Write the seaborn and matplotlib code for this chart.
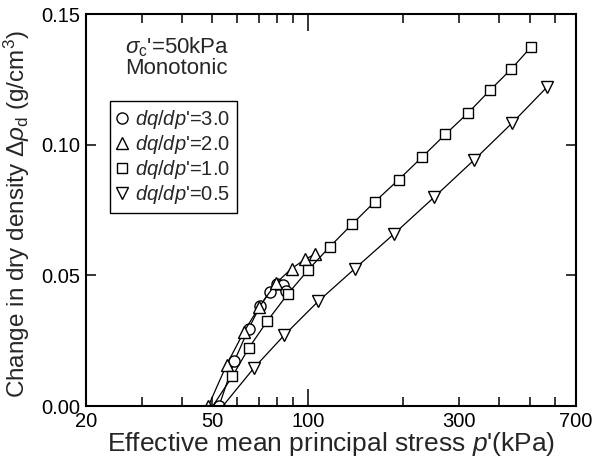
import numpy as np
import pandas as pd
import seaborn as sns
import matplotlib
matplotlib.use("Agg")
import matplotlib.pyplot as plt
from matplotlib.ticker import FixedLocator, FuncFormatter
from matplotlib.lines import Line2D

# ---- data ----
p_30 = [52.5, 58.7, 65.1, 70.8, 75.8, 80.2, 83.3, 85.4]
d_30 = [0.0, 0.0172, 0.0296, 0.0383, 0.0438, 0.0465, 0.0463, 0.0441]

p_20 = [48.6, 55.5, 62.9, 70.2, 79.4, 88.9, 98.0, 105.3]
d_20 = [0.0, 0.0158, 0.0284, 0.0378, 0.0470, 0.0526, 0.0561, 0.0581]

p_10 = [50.2, 57.8, 65.1, 74.6, 86.4, 100.3, 117.4, 138.0, 162.4, 193.3,
        229.4, 271.0, 320.3, 374.8, 436.6, 504.6]
d_10 = [0.0, 0.0113, 0.0221, 0.0326, 0.0428, 0.0521, 0.0610, 0.0696, 0.0781,
        0.0866, 0.0953, 0.1039, 0.1122, 0.1208, 0.1288, 0.1373]

p_05 = [54.0, 67.7, 84.3, 107.7, 140.8, 187.5, 250.6, 333.8, 441.4, 565.8]
d_05 = [0.0, 0.0146, 0.0271, 0.0400, 0.0526, 0.0660, 0.0800, 0.0941, 0.1084, 0.1219]

series_labels = ["dq/dp'=3.0", "dq/dp'=2.0", "dq/dp'=1.0", "dq/dp'=0.5"]
legend_texts = [r"$\mathit{dq/dp}$'=3.0", r"$\mathit{dq/dp}$'=2.0",
                r"$\mathit{dq/dp}$'=1.0", r"$\mathit{dq/dp}$'=0.5"]
x_tick_labels = [20, 50, 100, 300, 700]
y_ticks = [0.00, 0.05, 0.10, 0.15]

# ---- style ----
sns.set_style("ticks")
plt.rcParams["font.family"] = ["Liberation Sans", "DejaVu Sans"]
plt.rcParams["mathtext.fontset"] = "custom"
plt.rcParams["mathtext.rm"] = "Liberation Sans"
plt.rcParams["mathtext.it"] = "Liberation Sans:italic"
plt.rcParams["mathtext.default"] = "regular"

fig = plt.figure(figsize=(5.94, 4.61), dpi=100)
ax = fig.add_axes([86/594, 55/461, 490/594, 392/461])

frames = []
for lab, p, d in zip(series_labels, [p_30, p_20, p_10, p_05], [d_30, d_20, d_10, d_05]):
    frames.append(pd.DataFrame({"p": p, "d": d, "series": lab}))
df = pd.concat(frames, ignore_index=True)

specs = {
    "dq/dp'=3.0": dict(marker="o", markersize=8.0, markevery=None),
    "dq/dp'=2.0": dict(marker="^", markersize=8.5, markevery=None),
    "dq/dp'=1.0": dict(marker="s", markersize=7.2, markevery=slice(1, None)),
    "dq/dp'=0.5": dict(marker="v", markersize=8.5, markevery=slice(1, None)),
}
for lab in series_labels:
    sub = df[df["series"] == lab]
    sp = specs[lab]
    kw = dict(marker=sp["marker"], markersize=sp["markersize"],
              markerfacecolor="white", markeredgecolor="black",
              markeredgewidth=1.0)
    if sp["markevery"] is not None:
        kw["markevery"] = sp["markevery"]
    sns.lineplot(data=sub, x="p", y="d", ax=ax, color="black", lw=0.9,
                 sort=False, estimator=None, legend=False, **kw)

ax.set_xscale("log")
ax.set_xlim(20, 700)
ax.set_ylim(0, 0.15)

ax.xaxis.set_major_locator(FixedLocator([100]))
ax.xaxis.set_major_formatter(FuncFormatter(lambda v, pos: f"{v:g}"))
minor = [20, 30, 40, 50, 60, 70, 80, 90, 200, 300, 400, 500, 600, 700]
ax.xaxis.set_minor_locator(FixedLocator(minor))
ax.xaxis.set_minor_formatter(FuncFormatter(
    lambda v, pos: f"{v:g}" if round(v) in x_tick_labels else ""))

ax.yaxis.set_major_locator(FixedLocator(y_ticks))
ax.yaxis.set_major_formatter(FuncFormatter(lambda v, pos: f"{v:.2f}"))
ax.yaxis.set_minor_locator(FixedLocator([]))

ax.tick_params(axis="x", which="major", direction="in", length=12, width=1.1,
               top=True, bottom=True, labelsize=14.5, pad=4, colors="black")
ax.tick_params(axis="x", which="minor", direction="in", length=6.5, width=1.1,
               top=True, bottom=True, labelsize=14.5, pad=4, colors="black")
ax.tick_params(axis="y", which="major", direction="in", length=7, width=1.1,
               left=True, right=True, labelsize=14.5, pad=4, colors="black")

for s in ax.spines.values():
    s.set_visible(True)
    s.set_linewidth(1.5)
    s.set_color("black")

ax.set_xlabel(r"Effective mean principal stress $\mathit{p}$'(kPa)", fontsize=19)
ax.set_ylabel(r"Change in dry density $\mathit{\Delta\rho}_{d}$ (g/cm$^{3}$)", fontsize=17.5)
ax.xaxis.set_label_coords(0.5, -0.062)
ax.yaxis.set_label_coords(-0.11, 0.49)

ax.text(0.185, 0.915, r"$\mathit{\sigma}_{c}$'=50kPa", transform=ax.transAxes,
        ha="center", va="center", fontsize=16)
ax.text(0.185, 0.86, "Monotonic", transform=ax.transAxes,
        ha="center", va="center", fontsize=16)

handles = []
for lab in series_labels:
    sp = specs[lab]
    handles.append(Line2D([], [], linestyle="none", marker=sp["marker"],
                          markersize=sp["markersize"], markerfacecolor="white",
                          markeredgecolor="black", markeredgewidth=1.0))
leg = ax.legend(handles, legend_texts, loc="upper left",
                bbox_to_anchor=(0.049, 0.779), borderaxespad=0,
                fontsize=14.5, frameon=True, fancybox=False, framealpha=1,
                edgecolor="black", handlelength=0.5, handletextpad=0.4,
                labelspacing=0.1, borderpad=0.35)
leg.get_frame().set_linewidth(1.0)

fig.savefig("out.png", dpi=100)
